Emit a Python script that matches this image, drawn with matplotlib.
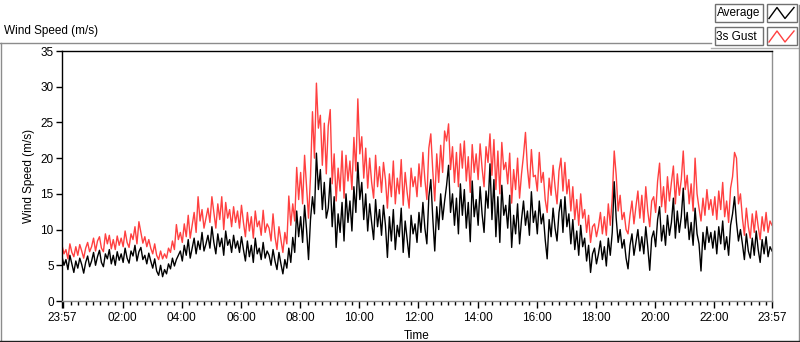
import matplotlib
matplotlib.use('Agg')
import matplotlib.pyplot as plt
import numpy as np

plt.rcParams['font.family'] = ['Liberation Sans', 'DejaVu Sans']

# ---- data (4-minute samples starting 23:57, one row per hour) ----
step_min = 4
avg = [
    6.2, 5.0, 5.8, 4.4, 6.4, 5.2, 4.0, 5.6, 4.6, 6.0, 5.1, 3.9, 5.4, 6.3, 4.8,
    5.6, 6.8, 5.0, 6.2, 7.1, 5.4, 4.8, 6.6, 5.9, 7.2, 5.2, 6.4, 5.0, 6.9, 5.7,
    6.6, 5.4, 7.4, 6.0, 5.3, 7.0, 6.3, 7.8, 5.6, 6.9, 7.5, 5.8, 6.4, 5.2, 6.7,
    5.6, 4.6, 5.9, 4.2, 3.6, 5.0, 3.4, 4.4, 3.8, 5.2, 4.5, 6.0, 4.9, 5.8, 6.4,
    7.0, 5.6, 7.8, 6.4, 8.6, 6.0, 7.4, 8.8, 6.6, 8.4, 7.2, 9.6, 7.0, 8.0, 9.2,
    7.4, 10.4, 8.2, 6.6, 9.4, 7.6, 8.8, 6.4, 9.8, 7.8, 8.6, 6.8, 9.2, 7.4, 8.4,
    6.8, 9.0, 7.2, 5.6, 8.4, 6.2, 7.8, 5.4, 8.8, 6.6, 7.4, 5.8, 8.2, 6.0, 7.0,
    6.4, 5.0, 7.2, 5.6, 4.4, 6.8, 5.2, 3.8, 5.8, 4.6, 7.4, 5.4, 8.9, 6.8, 12.6,
    9.0, 11.8, 8.2, 13.4, 10.0, 5.8, 11.4, 14.6, 12.2, 20.7, 15.6, 18.4, 12.8, 16.6, 11.6,
    13.0, 17.2, 10.4, 14.6, 7.5, 12.2, 9.6, 13.8, 8.4, 15.0, 11.0, 14.0, 9.8, 16.0, 12.4,
    19.4, 14.2, 16.6, 11.4, 15.0, 9.8, 13.6, 11.0, 8.6, 14.2, 10.4, 12.8, 9.2, 13.4, 10.6,
    6.1, 11.8, 8.4, 12.8, 7.2, 10.6, 9.0, 13.0, 6.8, 11.2, 8.6, 6.1, 12.0, 9.4, 10.8,
    8.2, 12.4, 9.6, 13.8, 10.2, 8.0, 14.6, 17.0, 11.6, 7.0, 13.2, 10.0, 15.0, 11.4, 14.0,
    16.2, 19.0, 12.4, 15.0, 10.6, 14.4, 9.4, 16.4, 12.0, 15.6, 10.2, 13.8, 8.3, 16.8, 11.8,
    14.2, 10.6, 16.0, 12.2, 9.6, 15.4, 13.0, 19.2, 11.4, 17.0, 9.0, 14.6, 8.2, 16.2, 12.0,
    13.4, 10.2, 14.8, 7.5, 12.0, 9.4, 13.6, 8.0, 11.4, 14.0, 10.6, 12.6, 9.2, 15.3, 11.0,
    12.6, 9.4, 14.0, 10.8, 12.2, 8.6, 5.9, 11.4, 9.0, 13.0, 10.2, 8.4, 12.4, 14.2, 9.6,
    14.6, 10.4, 12.2, 8.0, 11.4, 7.2, 9.8, 6.4, 10.6, 7.6, 8.8, 5.6, 7.8, 4.0, 6.6,
    7.4, 5.2, 6.6, 8.4, 5.8, 7.6, 4.9, 8.8, 6.4, 9.6, 16.7, 11.6, 8.2, 10.0, 7.4,
    8.6, 6.0, 4.5, 7.8, 9.4, 6.4, 8.2, 10.0, 7.0, 9.0, 6.6, 10.4, 7.6, 4.3, 8.8,
    9.8, 7.6, 11.4, 13.2, 8.4, 10.6, 7.8, 12.0, 9.2, 11.0, 14.4, 8.8, 12.6, 9.6, 11.8,
    15.8, 10.2, 12.4, 8.6, 11.0, 7.8, 13.0, 9.4, 8.0, 4.2, 9.6, 7.2, 10.4, 8.2, 9.6,
    7.4, 9.8, 6.6, 10.4, 8.0, 11.2, 7.2, 9.0, 6.4, 10.6, 12.2, 14.6, 11.0, 8.4, 10.0,
    8.0, 5.8, 9.4, 7.0, 6.0, 8.8, 6.4, 9.8, 7.2, 5.4, 8.6, 6.6, 9.0, 6.2, 7.6,
    7.0,
]
gust = [
    7.8, 6.6, 7.2, 5.9, 8.0, 6.8, 6.2, 7.6, 6.4, 7.9, 7.0, 6.0, 7.4, 8.2, 6.9,
    7.6, 8.8, 7.0, 8.4, 9.0, 7.4, 6.9, 9.4, 8.0, 9.2, 7.3, 8.6, 7.2, 9.1, 7.8,
    8.8, 7.6, 9.8, 8.2, 7.5, 9.4, 8.6, 10.4, 8.0, 11.1, 9.6, 8.1, 9.0, 7.6, 8.6,
    7.4, 6.6, 8.0, 6.4, 5.8, 7.0, 5.9, 6.6, 6.0, 7.4, 6.8, 8.4, 7.2, 10.7, 8.6,
    9.6, 8.2, 10.8, 9.0, 12.0, 8.8, 10.6, 12.4, 9.6, 14.6, 11.2, 12.8, 10.2, 11.6, 13.0,
    11.0, 14.6, 12.4, 10.2, 13.6, 11.4, 14.6, 10.0, 13.8, 11.6, 12.8, 10.4, 13.2, 11.0, 12.6,
    10.2, 13.4, 11.0, 9.0, 12.4, 9.8, 11.8, 8.8, 12.6, 10.4, 11.2, 9.2, 12.7, 9.6, 10.8,
    10.2, 8.4, 12.2, 9.0, 7.2, 10.4, 8.6, 6.8, 9.6, 8.0, 14.7, 10.6, 13.6, 11.2, 18.7,
    14.2, 18.0, 13.6, 20.4, 16.0, 11.6, 17.4, 26.5, 20.0, 30.5, 24.2, 26.0, 19.0, 24.9, 17.8,
    24.5, 26.8, 16.4, 20.6, 14.0, 18.6, 15.4, 21.0, 14.4, 20.4, 16.8, 19.6, 15.6, 22.9, 18.2,
    28.3, 20.6, 23.0, 17.2, 21.4, 15.8, 20.0, 16.6, 14.4, 20.4, 16.0, 18.8, 15.2, 19.4, 17.0,
    13.0, 17.8, 14.6, 19.6, 13.6, 17.2, 15.0, 19.8, 13.4, 18.0, 15.2, 13.0, 18.6, 16.0, 17.4,
    14.6, 19.2, 16.0, 20.8, 17.0, 14.2, 21.4, 23.4, 18.2, 14.0, 20.6, 16.6, 21.8, 18.0, 23.8,
    22.4, 24.8, 18.4, 21.6, 16.6, 20.8, 16.0, 22.0, 18.6, 22.4, 16.8, 20.2, 15.2, 21.9, 18.0,
    20.6, 17.0, 22.0, 18.6, 16.0, 21.6, 19.4, 23.4, 17.6, 22.6, 15.6, 21.0, 15.0, 22.2, 18.4,
    19.4, 16.4, 20.7, 13.7, 18.4, 15.6, 20.0, 14.4, 17.8, 20.4, 23.6, 18.6, 15.8, 21.2, 17.4,
    17.6, 15.4, 20.8, 16.6, 18.0, 14.2, 12.4, 17.2, 14.8, 19.0, 16.0, 13.6, 18.2, 20.0, 15.4,
    19.4, 15.0, 17.0, 12.6, 16.0, 11.4, 14.2, 10.6, 15.0, 11.6, 12.8, 9.6, 12.0, 8.2, 10.4,
    10.8, 9.0, 10.4, 12.4, 9.4, 11.8, 9.2, 13.6, 10.6, 14.4, 21.0, 17.6, 12.6, 14.8, 11.4,
    12.4, 10.0, 9.4, 12.0, 14.0, 10.8, 13.2, 15.4, 11.6, 14.8, 11.0, 16.0, 12.6, 10.4, 14.0,
    14.6, 12.4, 16.8, 19.3, 13.2, 16.0, 12.4, 17.4, 14.0, 16.6, 18.9, 13.6, 17.8, 14.8, 17.0,
    21.0, 15.6, 17.6, 13.6, 16.4, 12.6, 20.0, 15.0, 13.0, 11.2, 14.4, 12.0, 15.6, 12.8, 14.2,
    12.0, 14.6, 11.4, 15.4, 12.8, 16.6, 11.8, 14.0, 11.0, 15.8, 17.4, 20.8, 20.0, 13.6, 15.0,
    11.6, 9.2, 13.0, 10.4, 8.8, 12.2, 9.6, 12.6, 10.4, 8.6, 11.8, 9.8, 12.4, 9.6, 11.2,
    10.6,
]
series_names = ['Average', '3s Gust']
x_tick_labels = ['23:57', '', '02:00', '04:00', '06:00', '08:00', '10:00',
                 '12:00', '14:00', '16:00', '18:00', '20:00', '22:00', '23:57']

hours = np.arange(len(avg)) * step_min / 60.0

W, H = 800, 342
FS = 8.5
fig = plt.figure(figsize=(W / 100, H / 100), dpi=100)

# overlay for frame decorations (pixel coordinates)
ov = fig.add_axes([0, 0, 1, 1])
ov.set_xlim(0, W)
ov.set_ylim(H, 0)
ov.axis('off')
grey = '#8c8c8c'
ov.plot([0, 711], [42.5, 42.5], color=grey, lw=1)
ov.plot([711, 798.5], [47.5, 47.5], color='#b0b0b0', lw=1)
ov.plot([0.5, 0.5], [42.5, 342], color=grey, lw=1)
ov.plot([798.5, 798.5], [5, 342], color=grey, lw=1)
ov.plot([0, 800], [340.5, 340.5], color='#202020', lw=1)
ov.text(4, 31, 'Wind Speed (m/s)', fontsize=FS, ha='left', va='center', color='black')

# legend boxes
colors = ['black', '#ff4040']
for i, (name, c) in enumerate(zip(series_names, colors)):
    y0 = 3.5 + i * 23.5
    ov.add_patch(plt.Rectangle((714.5, y0), 48, 18, fill=True, facecolor='white',
                               edgecolor='#707070', lw=1))
    ov.add_patch(plt.Rectangle((766.5, y0), 30, 18, fill=True, facecolor='white',
                               edgecolor='#707070', lw=1))
    ov.text(716.5, y0 + 9.5, name, fontsize=FS, ha='left', va='center', color='black')
    ov.plot([769, 777, 785, 794], [y0 + 15, y0 + 4, y0 + 15, y0 + 4], color=c, lw=1)

# main plot
ax = fig.add_axes([62 / W, 1 - 301 / H, 710 / W, 250 / H])
ax.plot(hours, gust, color='#ff4040', lw=1.0)
ax.plot(hours, avg, color='black', lw=1.0)
ax.set_xlim(0, 24)
ax.set_ylim(0, 35)
ax.set_yticks(range(0, 36, 5))
major = [0, 0.05] + [0.05 + 2 * k for k in range(1, 12)] + [24]
ax.set_xticks(major)
ax.set_xticklabels(x_tick_labels)
ax.set_xticks(np.arange(0.05, 24, 0.25), minor=True)
ax.tick_params(axis='y', length=4, width=1, pad=2, labelsize=FS, colors='black')
ax.tick_params(axis='x', which='major', length=5, width=1, pad=3, labelsize=FS)
ax.tick_params(axis='x', which='minor', length=3, width=1)
ax.spines['left'].set_color('black')
ax.spines['top'].set_color('black')
ax.spines['right'].set_color('#909090')
ax.spines['bottom'].set_color('#909090')
for s in ax.spines.values():
    s.set_linewidth(1)
ax.set_ylabel('Wind Speed (m/s)', fontsize=FS, labelpad=4)
ax.set_xlabel('Time', fontsize=FS, labelpad=4)

fig.savefig('out.png', dpi=100)
